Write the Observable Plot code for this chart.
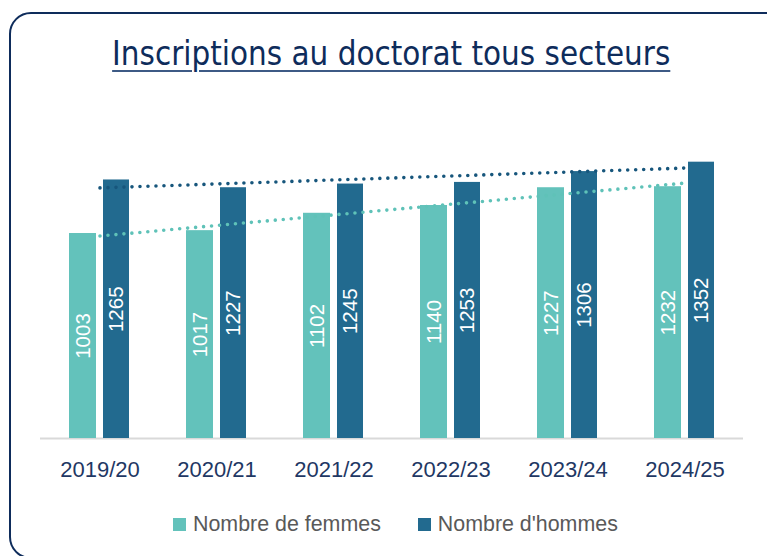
<!DOCTYPE html>
<html>
<head>
<meta charset="utf-8">
<script src="https://cdn.jsdelivr.net/npm/d3@7"></script>
<script src="https://cdn.jsdelivr.net/npm/@observablehq/plot@0.6"></script>
<style>
  html, body { margin: 0; padding: 0; background: #fff; }
  #wrap { position: relative; width: 767px; height: 556px; overflow: hidden; font-family: "Liberation Sans", Arial, sans-serif; }
  #frame { position: absolute; left: 9px; top: 12px; width: 780px; height: 547px; border: 2.5px solid #0e2c5b; border-radius: 22px; box-sizing: border-box; }
  #title { position: relative; height: 100px; box-sizing: border-box; padding-top: 33px; text-align: center; padding-left: 16px;
    font-family: "Liberation Sans Narrow", "DejaVu Sans Condensed", sans-serif; font-size: 34px; line-height: 40px; color: #0e2c5b; }
  #title span { display: inline-block; transform: scaleX(0.965);
    text-decoration: underline; text-decoration-thickness: 2px; text-underline-offset: 5px; text-decoration-color: #3d5a85; }
  #chart { position: relative; height: 388px; }
  #chart svg { display: block; }
  #legend { position: relative; display: flex; align-items: center; padding-left: 173px; padding-top: 24px; font-size: 21.4px; color: #595959; }
  .sw { width: 13px; height: 13px; display: inline-block; margin-right: 7px; }
  .item { display: flex; align-items: center; margin-right: 37px; }
</style>
</head>
<body>
<div id="wrap">
  <div id="frame"></div>
  <div id="title"><span>Inscriptions au doctorat tous secteurs</span></div>
  <div id="chart"></div>
  <div id="legend"></div>
</div>
<script>
const years = ["2019/20", "2020/21", "2021/22", "2022/23", "2023/24", "2024/25"];
const femmes = [1003, 1017, 1102, 1140, 1227, 1232];
const hommes = [1265, 1227, 1245, 1253, 1306, 1352];
const seriesNames = ["Nombre de femmes", "Nombre d'hommes"];
const colors = ["#63c2bb", "#226a8f"];
const trendColors = ["#5fc2b8", "#17567c"];

const rowsF = years.map((y, i) => ({year: y, value: femmes[i], series: seriesNames[0]}));
const rowsH = years.map((y, i) => ({year: y, value: hommes[i], series: seriesNames[1]}));

function fit(vals) {
  const xs = vals.map((_, i) => i);
  const mx = d3.mean(xs), my = d3.mean(vals);
  const b = d3.sum(xs, (x, i) => (x - mx) * (vals[i] - my)) / d3.sum(xs, x => (x - mx) ** 2);
  const a = my - b * mx;
  return xs.map(x => a + b * x);
}
const trendF = fit(femmes).map((v, i) => ({year: years[i], fit: v}));
const trendH = fit(hommes).map((v, i) => ({year: years[i], fit: v}));

const chart = Plot.plot({
  width: 767,
  height: 388,
  marginTop: 11,
  marginBottom: 50,
  marginLeft: 40,
  marginRight: 24,
  x: {domain: years, padding: 0, label: null},
  y: {domain: [0, 1600], axis: null},
  style: {fontFamily: "'Liberation Sans', Arial, sans-serif", background: "transparent"},
  marks: [
    Plot.ruleY([0], {stroke: "#d9d9d9", strokeWidth: 2}),
    Plot.barY(rowsF, {x: "year", y: "value", fill: colors[0], insetLeft: 28, insetRight: 62}),
    Plot.barY(rowsH, {x: "year", y: "value", fill: colors[1], insetLeft: 62, insetRight: 29}),
    Plot.text(rowsF, {x: "year", y: d => d.value / 2, text: d => String(d.value), dx: -17, rotate: -90, fill: "white", fontSize: 20.5}),
    Plot.text(rowsH, {x: "year", y: d => d.value / 2, text: d => String(d.value), dx: 16, rotate: -90, fill: "white", fontSize: 20.5}),
    Plot.line(trendH, {x: "year", y: "fit", stroke: trendColors[1], strokeWidth: 3.6, strokeDasharray: "0 8", strokeLinecap: "round"}),
    Plot.line(trendF, {x: "year", y: "fit", stroke: trendColors[0], strokeWidth: 3.6, strokeDasharray: "0 8", strokeLinecap: "round"}),
    Plot.axisX({tickSize: 0, tickPadding: 23, fontSize: 22, fill: "#1f3864", label: null})
  ]
});
document.getElementById("chart").appendChild(chart);

const legend = document.getElementById("legend");
seriesNames.forEach((name, i) => {
  const item = document.createElement("div");
  item.className = "item";
  const sw = document.createElement("span");
  sw.className = "sw";
  sw.style.background = colors[i];
  const t = document.createElement("span");
  t.textContent = name;
  item.appendChild(sw);
  item.appendChild(t);
  legend.appendChild(item);
});
</script>
</body>
</html>
